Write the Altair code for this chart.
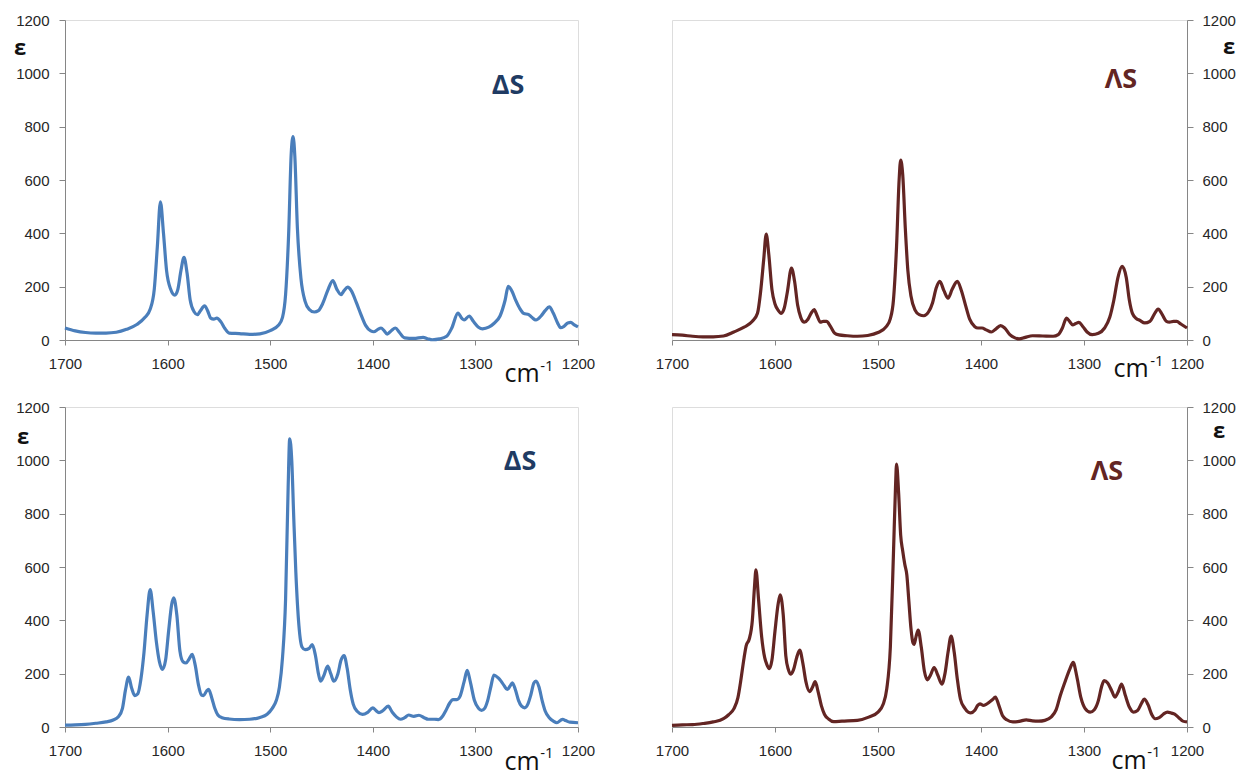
import altair as alt
import pandas as pd

# ---------------- data ----------------
A_WN = [1700, 1690, 1680, 1670, 1660, 1650, 1640, 1630, 1622, 1617, 1613, 1610, 1607, 1604, 1601, 1597, 1593,
        1590, 1587, 1584, 1581, 1578, 1574, 1571, 1568, 1564, 1561, 1558, 1555, 1552, 1548, 1544, 1540, 1530,
        1520, 1510, 1500, 1492, 1488, 1485, 1482, 1479.5, 1477.7, 1476, 1473.5, 1470, 1466, 1462, 1457, 1453,
        1449, 1444, 1439, 1435, 1431, 1428, 1424.5, 1421, 1416, 1412, 1407, 1402, 1399, 1395, 1392, 1389, 1386,
        1382, 1378, 1374, 1369, 1360, 1351, 1346, 1342, 1335, 1328, 1323, 1317, 1313, 1311, 1306, 1302, 1297,
        1293, 1287, 1282, 1276, 1271, 1268, 1264, 1261, 1257, 1253, 1248, 1245, 1241, 1236, 1232, 1228, 1224,
        1220, 1217, 1214, 1210, 1207, 1204, 1200]
A_EPS = [45, 34, 28, 26, 26, 29, 40, 58, 85, 115, 190, 350, 518, 400, 260, 190, 168,
         190, 260, 310, 250, 150, 105, 95, 110, 128, 110, 82, 78, 82, 68, 42, 26, 24,
         21, 23, 35, 55, 85, 170, 400, 700, 763, 690, 420, 230, 145, 115, 105, 110,
         135, 185, 223, 190, 170, 185, 198, 185, 140, 100, 55, 34, 31, 40, 45, 35, 22,
         35, 45, 28, 8, 6, 10, 4, 1, 4, 14, 45, 101, 80, 75, 90, 70, 48,
         42, 48, 62, 90, 150, 201, 180, 151, 120, 100, 95, 85, 75, 90, 110, 124, 100,
         65, 46, 50, 64, 66, 58, 49]

B_WN = [1700, 1690, 1680, 1670, 1660, 1650, 1640, 1630, 1622, 1617, 1614, 1611, 1608.5, 1606, 1603, 1600, 1597,
        1594, 1591, 1588, 1584, 1581, 1578, 1575, 1571.5, 1568, 1565, 1562, 1559, 1556, 1553, 1550, 1546,
        1542, 1538, 1530, 1520, 1510, 1500, 1492, 1488, 1485, 1482, 1479.5, 1478, 1476, 1473.5, 1471, 1468,
        1464, 1460, 1455.5, 1451, 1447, 1443.5, 1440, 1436, 1432, 1428, 1423, 1419, 1415, 1411, 1406, 1403,
        1399, 1395, 1390, 1386, 1381, 1377, 1372, 1367, 1363, 1357, 1350, 1340, 1330, 1325, 1321, 1317, 1314,
        1311, 1308, 1305, 1301, 1297, 1292, 1286, 1280, 1275, 1271, 1267, 1263, 1259, 1256, 1253, 1249, 1246,
        1241, 1236, 1232, 1228, 1224, 1220, 1217, 1213, 1210, 1206, 1200]
B_EPS = [20, 18, 14, 12, 12, 15, 30, 48, 70, 100, 180, 300, 397, 320, 190, 135, 112,
         100, 120, 180, 270, 220, 130, 85, 67, 78, 100, 114, 90, 67, 70, 70, 50,
         25, 19, 16, 14, 17, 28, 50, 80, 150, 350, 600, 675, 620, 420, 260, 165,
         112, 95, 91, 105, 140, 195, 220, 185, 157, 190, 220, 185, 130, 78, 50, 45,
         45, 38, 30, 40, 54, 45, 20, 8, 4, 10, 16, 15, 14, 20, 45, 82, 70,
         57, 62, 66, 50, 30, 20, 25, 45, 85, 150, 235, 276, 235, 150, 100, 80, 74,
         64, 70, 95, 116, 95, 70, 67, 70, 70, 60, 45]

C_WN = [1700, 1690, 1680, 1670, 1660, 1653, 1648, 1644, 1641, 1638, 1635, 1632, 1629, 1626, 1623, 1620, 1617,
        1614, 1611, 1608, 1605, 1602, 1599, 1596, 1594, 1591, 1588, 1585, 1582, 1579, 1576, 1573, 1570, 1567,
        1565, 1562, 1560, 1557, 1554, 1551, 1547, 1540, 1530, 1520, 1510, 1503, 1498, 1494, 1491, 1488, 1485,
        1482.5, 1481, 1479, 1477, 1475, 1472, 1469, 1466, 1462, 1459, 1456, 1453, 1451, 1448, 1444, 1441, 1438,
        1434, 1431, 1428, 1425, 1422, 1419, 1415, 1410, 1405, 1400, 1397, 1394, 1390, 1385, 1381, 1377, 1373,
        1369, 1365, 1360, 1355, 1350, 1346, 1340, 1336, 1332, 1329, 1325, 1322, 1318, 1315, 1311, 1308, 1305,
        1301, 1297, 1294, 1291, 1288, 1285, 1282, 1278, 1275, 1272, 1269, 1266, 1264, 1261, 1258, 1255, 1252,
        1249, 1246, 1243, 1241, 1238, 1235, 1232, 1228, 1224, 1220.5, 1217, 1215, 1212, 1208, 1200]
C_EPS = [7, 8, 10, 14, 19, 26, 38, 70, 140, 187, 145, 118, 125, 180, 280, 420, 515,
         430, 321, 245, 216, 250, 360, 460, 484, 420, 285, 245, 240, 255, 272, 230, 160, 120,
         118, 135, 141, 110, 70, 45, 35, 30, 28, 29, 36, 48, 70, 100, 150, 260, 480,
         900, 1081, 1000, 780, 580, 380, 300, 290, 295, 309, 270, 200, 172, 190, 228, 200, 172,
         200, 250, 268, 220, 140, 85, 58, 47, 55, 72, 62, 54, 62, 78, 55, 38, 29,
         35, 45, 40, 44, 35, 29, 29, 28, 40, 60, 90, 103, 103, 115, 170, 212, 170,
         100, 70, 62, 70, 100, 150, 195, 185, 172, 155, 141, 155, 166, 140, 100, 78, 72,
         85, 120, 165, 172, 150, 100, 60, 35, 22, 16, 25, 29, 24, 18, 16]

D_WN = [1700, 1690, 1680, 1670, 1660, 1650, 1645, 1640, 1636, 1633.5, 1630, 1628, 1625, 1622, 1620, 1618.5, 1616,
        1613, 1610, 1608, 1605.5, 1603, 1600, 1597, 1595, 1592, 1589.5, 1587, 1585, 1582, 1579, 1576, 1573,
        1570, 1566.5, 1563.5, 1561, 1558, 1555, 1552, 1548, 1543, 1535, 1520, 1509, 1500, 1495, 1491.5, 1488,
        1485, 1483, 1482, 1480, 1478, 1476, 1474, 1472, 1470, 1468, 1466, 1465, 1463, 1461, 1458, 1455, 1452,
        1449, 1445.5, 1442, 1438, 1435, 1432, 1429, 1426, 1423, 1420, 1416, 1412, 1410, 1406, 1403, 1401, 1398,
        1395, 1392, 1389, 1386, 1383, 1379, 1375, 1369, 1363, 1356, 1350, 1344, 1338, 1332, 1327, 1323, 1318,
        1314, 1310.5, 1307, 1303, 1299, 1294, 1290, 1286, 1283, 1280.5, 1277, 1273, 1270, 1267, 1263.5, 1260,
        1256, 1252, 1248, 1244, 1241.5, 1238, 1234, 1231, 1227, 1223, 1219, 1215, 1212, 1208, 1204, 1200]
D_EPS = [6, 8, 9, 13, 19, 31, 46, 68, 110, 167, 260, 304, 330, 400, 520, 589, 480,
         340, 260, 235, 219, 250, 360, 460, 496, 420, 267, 215, 198, 215, 260, 288, 240,
         170, 133, 150, 170, 130, 80, 48, 30, 20, 22, 25, 37, 56, 85, 143, 300,
         650, 900, 986, 880, 720, 660, 610, 570, 470, 370, 315, 310, 340, 363, 300, 210, 177,
         195, 223, 195, 161, 200, 280, 341, 280, 180, 105, 72, 55, 53, 63, 82, 87, 81,
         85, 93, 102, 112, 85, 42, 27, 19, 21, 27, 23, 22, 25, 37, 65, 118, 174,
         215, 242, 190, 110, 70, 56, 65, 100, 150, 174, 165, 135, 112, 130, 161, 120,
         75, 56, 62, 90, 105, 85, 45, 31, 35, 48, 56, 52, 48, 35, 22, 19]

X_TICKS = [1700, 1600, 1500, 1400, 1300, 1200]
Y_TICKS = [0, 200, 400, 600, 800, 1000, 1200]

BLUE = "#4A7EBB"
RED = "#632523"
NAVY = "#1F3B63"
AXIS_GRAY = "#868686"
LABEL_FONT = "Liberation Sans"


def panel(wn, eps, color, side, tag, tag_color, tag_pos, eps_pos, cm_pos, sup_pos, width, height):
    df = pd.DataFrame({"wn": wn, "eps": eps})
    x_enc = alt.X(
        "wn:Q",
        scale=alt.Scale(domain=[1200, 1700], reverse=True, nice=False, zero=False),
        axis=alt.Axis(values=X_TICKS, title=None, format="d", grid=False,
                      domainColor=AXIS_GRAY, tickColor=AXIS_GRAY, tickSize=5,
                      labelPadding=11, labelFontSize=15, labelFont=LABEL_FONT,
                      labelColor="#262626", labelFlush=False),
    )
    y_enc = alt.Y(
        "eps:Q",
        scale=alt.Scale(domain=[0, 1200], nice=False),
        axis=alt.Axis(values=Y_TICKS, title=None, orient=side, format="d", grid=False,
                      domainColor=AXIS_GRAY, tickColor=AXIS_GRAY, tickSize=6,
                      labelPadding=10 if side == "left" else 9, labelFontSize=15,
                      labelFont=LABEL_FONT, labelColor="#262626", labelFlush=False),
    )
    line = alt.Chart(df).mark_line(color=color, strokeWidth=3.2, interpolate="monotone").encode(
        x=x_enc, y=y_enc
    )

    def txt(s, pos, size, col, bold=True, font="Open Sans"):
        return alt.Chart(pd.DataFrame({"t": [s]})).mark_text(
            fontSize=size, font=font, fontWeight="bold" if bold else "normal",
            color=col, align="center", baseline="middle",
        ).encode(x=alt.value(pos[0]), y=alt.value(pos[1]), text="t:N")

    tag_layer = txt(tag, tag_pos, 27, tag_color)
    eps_layer = txt("ε", eps_pos, 22, "#111111")
    cm_layer = txt("cm", cm_pos, 25, "#111111", bold=False, font="Open Sans")
    sup_layer = txt("-1", sup_pos, 15, "#111111", bold=False, font="Open Sans")

    return alt.layer(line, tag_layer, eps_layer, cm_layer, sup_layer).properties(
        width=width, height=height
    )


pA = panel(A_WN, A_EPS, BLUE, "left", "ΔS", NAVY, (443, 66), (-45, 28), (457, 354), (482, 346), 513, 320)
pB = panel(B_WN, B_EPS, RED, "right", "ΛS", RED, (449, 60), (557, 27), (459, 349), (485, 341), 515, 320)
pC = panel(C_WN, C_EPS, BLUE, "left", "ΔS", NAVY, (455, 55), (-42, 30), (457, 355), (482, 346), 513, 320)
pD = panel(D_WN, D_EPS, RED, "right", "ΛS", RED, (435, 65), (547, 24), (457, 354), (482, 345), 515, 320)

chart = alt.concat(pA, pB, pC, pD, columns=2).properties(
    bounds="flush",
    align="each",
    spacing={"row": 67, "column": 94},
    padding={"left": 5, "top": 4, "right": 0, "bottom": 0},
).configure_view(
    stroke="#A6A6A6", strokeWidth=1
).configure(background="white")

chart.save("out.html", embed_options={"renderer": "svg", "actions": False})
